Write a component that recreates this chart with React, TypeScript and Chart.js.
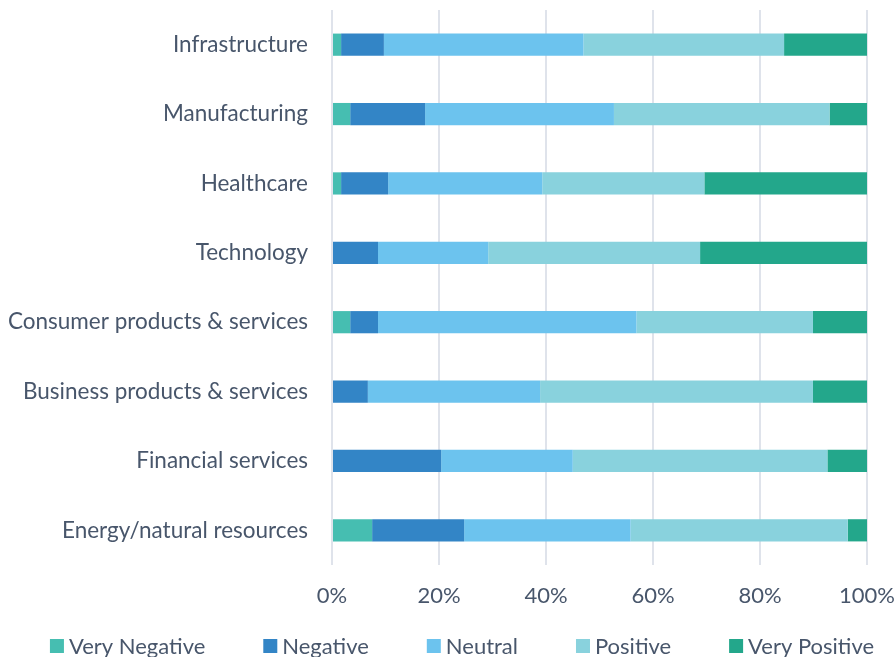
import React, { useEffect, useRef } from "react";
import { Chart, registerables } from "chart.js";

Chart.register(...registerables);

const categories = [
  "Infrastructure",
  "Manufacturing",
  "Healthcare",
  "Technology",
  "Consumer products & services",
  "Business products & services",
  "Financial services",
  "Energy/natural resources",
];

const veryNegative = [1.7, 3.4, 1.7, 0, 3.4, 0, 0, 7.5];
const negative = [8.0, 14.0, 8.8, 8.6, 5.2, 6.7, 20.4, 17.2];
const neutral = [37.3, 35.3, 28.8, 20.6, 48.3, 32.2, 24.6, 31.1];
const positive = [37.5, 40.3, 30.3, 39.6, 33.0, 51.0, 47.6, 40.6];
const veryPositive = [15.5, 7.0, 30.4, 31.2, 10.1, 10.1, 7.4, 3.6];

const seriesNames = ["Very Negative", "Negative", "Neutral", "Positive", "Very Positive"];
const seriesColors = ["#46beb1", "#3385c6", "#6cc3ee", "#89d2dd", "#23a78b"];
const xTicks = [0, 20, 40, 60, 80, 100];

const FONT = "Lato, 'Open Sans', sans-serif";
const TEXT = "#48566b";
const FONT_SIZE = 22;
const LABEL_SIZE = 22.5;

const bottomLegend = {
  id: "bottomLegend",
  afterDraw(chart: any) {
    const ctx = chart.ctx as CanvasRenderingContext2D;
    const ds = chart.data.datasets;
    const box = 14;
    const gapText = 5;
    const gapItem = 58;
    const centerY = 646;
    ctx.save();
    ctx.font = `${FONT_SIZE}px ${FONT}`;
    ctx.textBaseline = "middle";
    ctx.textAlign = "left";
    const widths = ds.map((d: any) => ctx.measureText(d.label).width);
    const total =
      widths.reduce((a: number, b: number) => a + b, 0) +
      ds.length * (box + gapText) +
      (ds.length - 1) * gapItem;
    let x = 462 - total / 2;
    ds.forEach((d: any, i: number) => {
      ctx.fillStyle = d.backgroundColor;
      ctx.fillRect(x, centerY - box / 2, box, box);
      ctx.fillStyle = TEXT;
      ctx.fillText(d.label, x + box + gapText, centerY + 1);
      x += box + gapText + widths[i] + gapItem;
    });
    ctx.restore();
  },
};

export default function App() {
  const ref = useRef<HTMLCanvasElement | null>(null);

  useEffect(() => {
    if (!ref.current) return;
    const values = [veryNegative, negative, neutral, positive, veryPositive];
    const chart = new Chart(ref.current, {
      type: "bar",
      data: {
        labels: categories,
        datasets: values.map((d, i) => ({
          label: seriesNames[i],
          data: d,
          backgroundColor: seriesColors[i],
          borderWidth: 0,
          categoryPercentage: 1,
          barPercentage: 0.32,
        })),
      },
      options: {
        indexAxis: "y",
        animation: false,
        responsive: false,
        maintainAspectRatio: false,
        layout: { padding: { left: 0, right: 28, top: 10, bottom: 0 } },
        scales: {
          x: {
            stacked: true,
            min: 0,
            max: 100,
            afterBuildTicks: (axis: any) => {
              axis.ticks = xTicks.map((v) => ({ value: v }));
            },
            afterFit: (axis: any) => {
              axis.height = 92;
              axis.paddingLeft = 0;
              axis.paddingRight = 0;
            },
            ticks: {
              callback: (v: any) => v + "%",
              color: TEXT,
              font: { family: FONT, size: FONT_SIZE },
              padding: 18,
              maxRotation: 0,
            },
            grid: { color: "#dfe3eb", lineWidth: 2, drawTicks: false },
            border: { display: false },
          },
          y: {
            stacked: true,
            afterFit: (axis: any) => {
              axis.width = 332;
              axis.paddingTop = 0;
              axis.paddingBottom = 0;
            },
            ticks: {
              color: TEXT,
              font: { family: FONT, size: LABEL_SIZE },
              padding: 24,
            },
            grid: { display: false, drawTicks: false },
            border: { display: false },
          },
        },
        plugins: {
          legend: { display: false },
          tooltip: { enabled: false },
        },
      },
      plugins: [bottomLegend],
    });
    return () => chart.destroy();
  }, []);

  return (
    <div style={{ position: "fixed", left: 0, top: 0, width: 895, height: 657, background: "#fff" }}>
      <canvas ref={ref} width={895} height={657} style={{ display: "block" }} />
    </div>
  );
}
